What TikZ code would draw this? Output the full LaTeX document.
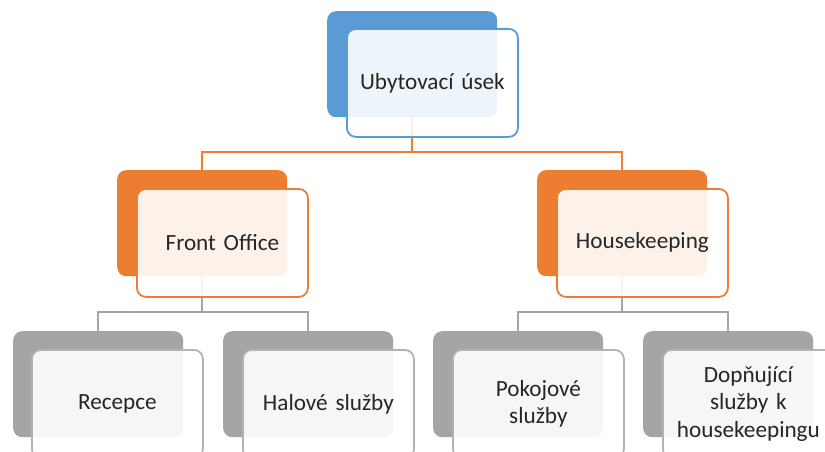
\documentclass[tikz,border=0pt]{standalone}
\usepackage{fontspec}
\setmainfont{Carlito}
\definecolor{cblue}{HTML}{5B9BD5}
\definecolor{corange}{HTML}{ED7D31}
\definecolor{cgray}{HTML}{A5A5A5}
\definecolor{cgrayl}{HTML}{B2B2B2}
\definecolor{ctext}{HTML}{262626}
\begin{document}
\begin{tikzpicture}[x=1pt,y=-1pt,
  backbox/.style={rounded corners=9pt, minimum width=170pt, minimum height=106pt, anchor=north west, inner sep=0pt, draw=none},
  frontbox/.style={rounded corners=9pt, line width=1.8pt, fill=white, fill opacity=0.9, text opacity=1, minimum width=171pt, minimum height=108pt, anchor=north west, inner sep=2pt, text width=160pt, align=center, text=ctext, font=\fontsize{23.2}{27.5}\selectfont},
  conn/.style={line width=2pt}
]
\clip (0,0) rectangle (825,452);
\fill[white] (0,0) rectangle (825,452);
% back boxes
\node[backbox, fill=cblue] (topB) at (327,11) {};
\node[backbox, fill=corange] (foB) at (117,170) {};
\node[backbox, fill=corange] (hkB) at (537,170) {};
\node[backbox, fill=cgray] (recB) at (13,331) {};
\node[backbox, fill=cgray] (halB) at (223,331) {};
\node[backbox, fill=cgray] (pokB) at (433,331) {};
\node[backbox, fill=cgray] (dopB) at (643,331) {};
% connector ends just above the child boxes
\coordinate (foT) at ([yshift=-3pt]foB.north);
\coordinate (hkT) at ([yshift=-3pt]hkB.north);
\coordinate (recT) at ([yshift=-3pt]recB.north);
\coordinate (halT) at ([yshift=-3pt]halB.north);
\coordinate (pokT) at ([yshift=-3pt]pokB.north);
\coordinate (dopT) at ([yshift=-3pt]dopB.north);
% connectors
\draw[conn, corange] (topB.south) -- ++(0,35) -| (foT);
\draw[conn, corange] (topB.south) -- ++(0,35) -| (hkT);
\draw[conn, cgray] (foB.south) -- ++(0,36) -| (recT);
\draw[conn, cgray] (foB.south) -- ++(0,36) -| (halT);
\draw[conn, cgray] (hkB.south) -- ++(0,36) -| (pokT);
\draw[conn, cgray] (hkB.south) -- ++(0,36) -| (dopT);
% front boxes
\node[frontbox, draw=cblue] (topF) at (346,28) {Ubytovací úsek};
\node[frontbox, draw=corange] (foF) at (136,188) {Front Office};
\node[frontbox, draw=corange] (hkF) at (556,188) {Housekeeping};
\node[frontbox, draw=cgrayl] (recF) at (31,349) {Recepce};
\node[frontbox, draw=cgrayl] (halF) at (242,349) {Halové služby};
\node[frontbox, draw=cgrayl] (pokF) at (452,349) {Pokojové\\služby};
\node[frontbox, draw=cgrayl] (dopF) at (662,349) {Dopňující\\služby k\\housekeepingu};
\end{tikzpicture}
\end{document}
